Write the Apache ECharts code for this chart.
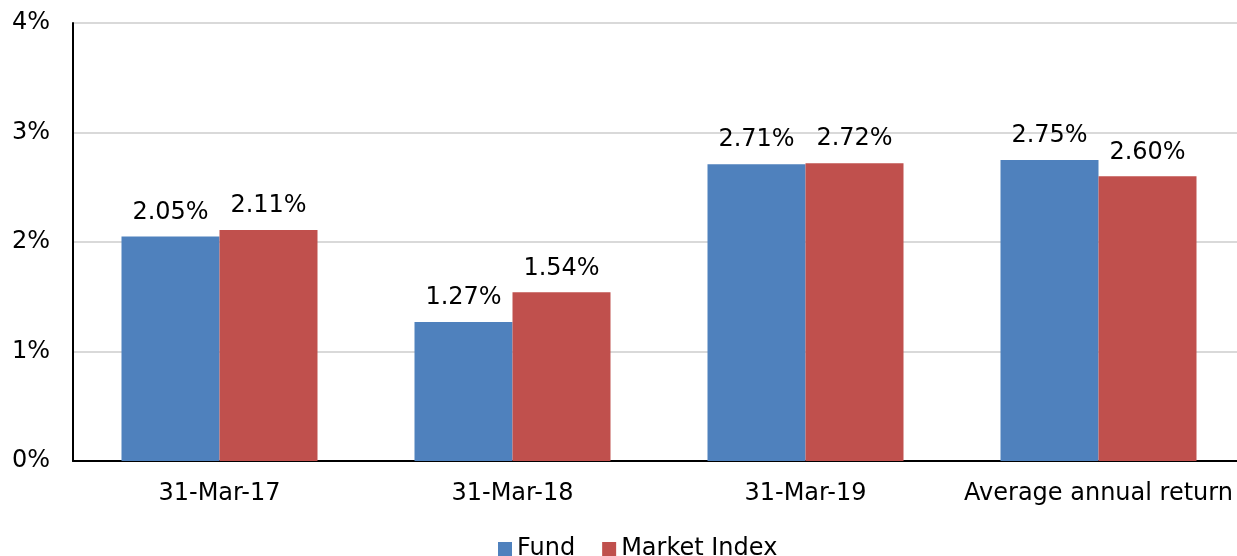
<!DOCTYPE html>
<html>
<head>
<meta charset="utf-8">
<script src="https://cdn.jsdelivr.net/npm/echarts@6/dist/echarts.min.js"></script>
<style>
html, body { margin: 0; padding: 0; background: #fff; }
#main { width: 1237px; height: 556px; }
</style>
</head>
<body>
<div id="main"></div>
<script>
var categories = ['31-Mar-17', '31-Mar-18', '31-Mar-19', 'Average annual return'];
var fundValues = [2.05, 1.27, 2.71, 2.75];
var indexValues = [2.11, 1.54, 2.72, 2.60];
var seriesNames = ['Fund', 'Market Index'];

var chart = echarts.init(document.getElementById('main'));
var font = 'DejaVu Sans';

function barLabel() {
	return {
		show: true,
		position: 'top',
		distance: 12,
		color: '#000',
		fontFamily: font,
		fontSize: 24,
		formatter: function (p) { return p.value.toFixed(2) + '%'; }
	};
}

var option = {
	animation: false,
	backgroundColor: '#fff',
	color: ['#4F81BD', '#C0504D'],
	textStyle: { fontFamily: font },
	legend: {
		data: seriesNames,
		top: 532,
		left: 493,
		icon: 'rect',
		itemWidth: 14,
		itemHeight: 14,
		itemGap: 27,
		textStyle: { fontFamily: font, fontSize: 24, color: '#000' }
	},
	// plot runs a little past the right edge of the picture
	grid: {
		left: 73,
		top: 23,
		width: 1172,
		height: 438,
		outerBoundsMode: 'none',
		containLabel: false,
		show: true,
		borderWidth: 0
	},
	xAxis: {
		type: 'category',
		data: categories,
		axisLine: { show: true, lineStyle: { color: '#000', width: 2 } },
		axisTick: { show: false },
		axisLabel: { interval: 0, color: '#000', fontFamily: font, fontSize: 24, margin: 21 }
	},
	yAxis: [{
		type: 'value',
		min: 0,
		max: 4,
		interval: 1,
		axisLine: { show: true, lineStyle: { color: '#000', width: 2 } },
		axisTick: { show: false },
		splitLine: { show: true, lineStyle: { color: '#d9d9d9', width: 2 } },
		axisLabel: { color: '#000', fontFamily: font, fontSize: 24, margin: 23, formatter: '{value}%' }
	}],
	graphic: [{
		type: 'line',
		shape: { x1: 73, y1: 23, x2: 1237, y2: 23 },
		style: { stroke: '#000', lineWidth: 2 }
	}],
	series: [
		{
			name: seriesNames[0],
			type: 'bar',
			data: fundValues,
			barWidth: 98,
			barGap: '0%',
			label: barLabel()
		},
		{
			name: seriesNames[1],
			type: 'bar',
			data: indexValues,
			barWidth: 98,
			barGap: '0%',
			label: barLabel()
		}
	]
};

chart.setOption(option);
</script>
</body>
</html>
